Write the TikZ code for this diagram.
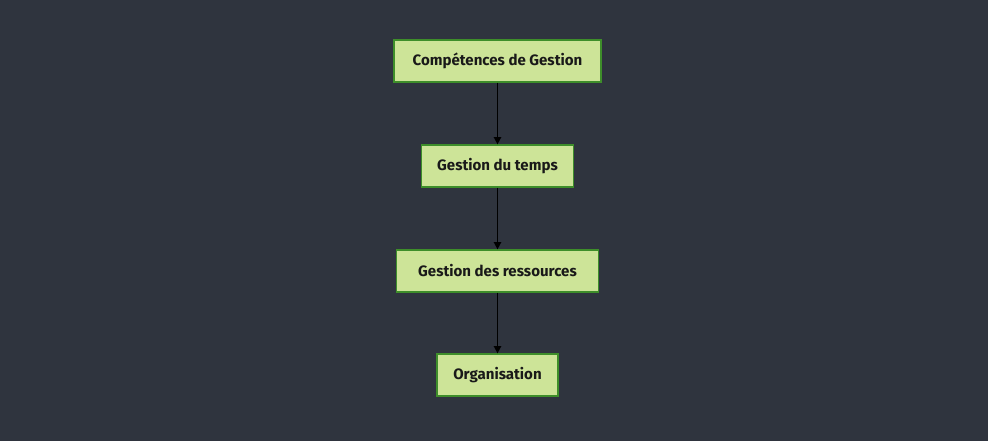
\documentclass[tikz,border=0pt]{standalone}
\usepackage{fontspec}
\setmainfont{Fira Sans}
\usetikzlibrary{arrows.meta}
\definecolor{bg}{HTML}{2F343E}
\definecolor{boxfill}{HTML}{CDE498}
\definecolor{boxline}{HTML}{3E8E2A}
\begin{document}
\begin{tikzpicture}[x=0.75pt,y=-0.75pt,
  box/.style={draw=boxline,fill=boxfill,line width=0.9pt,inner sep=0pt,
    font=\fontsize{11.3}{13}\selectfont\bfseries,text=black!90,anchor=center},
  link/.style={draw=black,line width=1.1pt,-{Triangle[length=5.5pt,width=5.5pt]}}]
\fill[bg] (0,0) rectangle (988,441);
\useasboundingbox (0,0) rectangle (988,441);
\node[box,minimum width=207*0.75pt,minimum height=42*0.75pt] (a) at (497.5,61) {Compétences de Gestion};
\node[box,minimum width=152*0.75pt,minimum height=42*0.75pt] (b) at (497.5,166) {Gestion du temps};
\node[box,minimum width=202*0.75pt,minimum height=42*0.75pt] (c) at (497.5,271) {Gestion des ressources};
\node[box,minimum width=121*0.75pt,minimum height=42*0.75pt] (d) at (497.5,375) {Organisation};
\draw[link] (a) -- (b);
\draw[link] (b) -- (c);
\draw[link] (c) -- (d);
\end{tikzpicture}
\end{document}
